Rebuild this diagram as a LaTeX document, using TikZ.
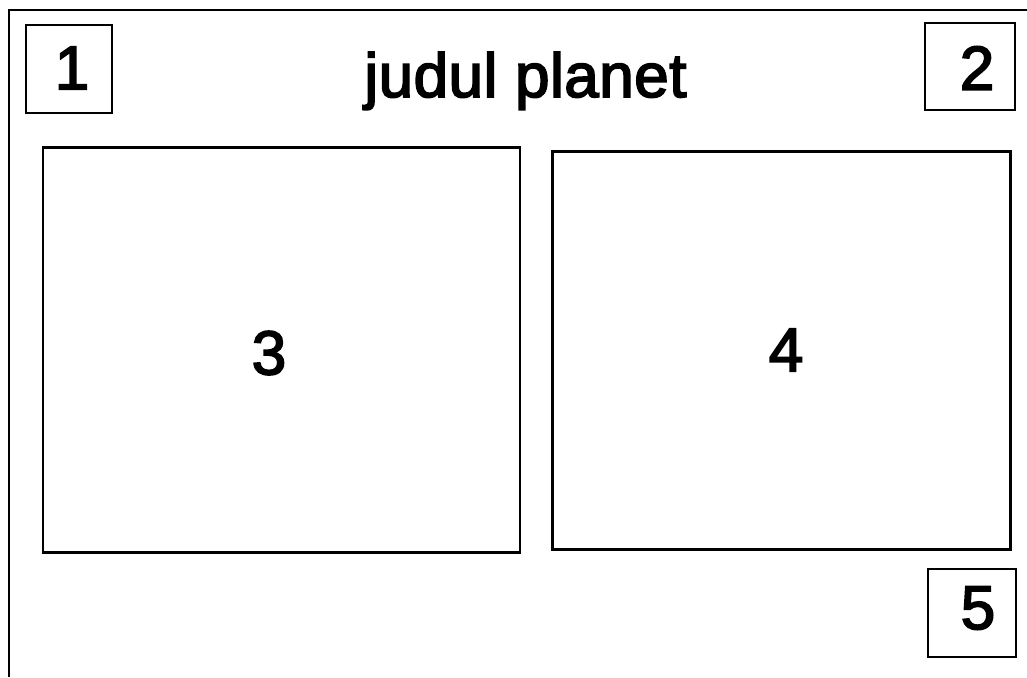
\documentclass[tikz,border=0pt]{standalone}
\usepackage{fontspec}
\setmainfont{Liberation Sans}
\newfontfamily\heavy{Liberation Sans}[FakeBold=2.8]
\begin{document}
\begin{tikzpicture}[x=0.5pt,y=-0.5pt,
  frame/.style={draw=black,line width=1.1pt},
  bigtext/.style={font=\heavy\fontsize{31pt}{36pt}\selectfont,inner sep=0pt},
  numbox/.style={frame,inner sep=0pt},
  panel/.style={frame,inner sep=0pt}]
\useasboundingbox (0,0) rectangle (1027,677);
\draw[line width=1.2pt] (9,677) coordinate (bl) -- (9,10) coordinate (tl) -- (1027,10) coordinate (tr);
\node[numbox, minimum height=44pt, minimum width=43pt] (n1) at (69,69) {};
\node[numbox, minimum height=43.5pt, minimum width=45pt] (n2) at (970,66.5) {};
\node[numbox, minimum height=44pt, minimum width=44pt] (n5) at (972,613) {};
\node[panel, minimum width=238.5pt, minimum height=202.5pt] (n3) at (281.5,350) {};
\node[panel, minimum width=229pt, minimum height=199pt] (n4) at (781.5,350.5) {};
\node[bigtext] (t1) at (72,68) {1};
\node[bigtext] (t2) at (977,68) {2};
\node[bigtext] (t5) at (978,608) {5};
\node[bigtext] (t3) at (269,353) {3};
\node[bigtext] (t4) at (786,350) {4};
\node[anchor=base,bigtext] (title) at (525.5,97) {\addfontfeature{LetterSpace=0.8}judul planet};
\end{tikzpicture}
\end{document}
